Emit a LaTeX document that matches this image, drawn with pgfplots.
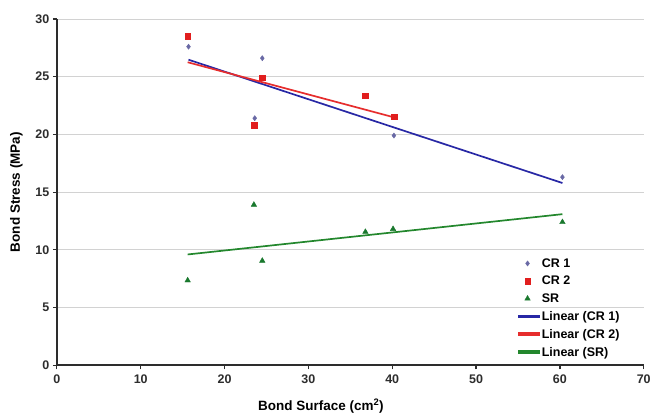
\documentclass[border=0pt]{standalone}
\usepackage{pgfplots}
\pgfplotsset{compat=1.18}
\usepackage{fontspec}
\setmainfont{Liberation Sans}
\definecolor{crone}{RGB}{105,105,165}
\definecolor{crtwo}{RGB}{225,30,30}
\definecolor{srg}{RGB}{25,120,45}
\definecolor{lineblue}{RGB}{40,40,165}
\definecolor{linered}{RGB}{230,45,45}
\definecolor{linegreen}{RGB}{35,135,45}
\definecolor{axgray}{RGB}{45,45,45}
\begin{document}
\begin{tikzpicture}[x=1pt,y=1pt]
\begin{axis}[name=ax,
  scale only axis, width=588pt, height=347pt,
  xmin=0, xmax=70, ymin=0, ymax=30,
  xtick={0,10,...,70}, ytick={0,5,...,30},
  axis x line*=bottom, axis y line*=left,
  axis line style={axgray, line width=1.7pt, -},
  tick style={axgray, line width=1.2pt},
  tick align=outside, major tick length=4pt,
  ymajorgrids, grid style={gray!35, line width=0.8pt},
  /pgf/number format/assume math mode=true,
  ticklabel style={font=\bfseries\fontsize{12.5}{14}\selectfont, text=axgray},
  xticklabel style={yshift=-2pt},
  xlabel={Bond Surface (cm\textsuperscript{2})},
  ylabel={Bond Stress (MPa)},
  xlabel style={font=\bfseries\fontsize{13.5}{15}\selectfont, at={(axis description cs:0.45,0)}, anchor=north, yshift=-30pt},
  ylabel style={font=\bfseries\fontsize{13.5}{15}\selectfont, yshift=6pt},
  legend style={draw=none, fill=none, at={(rel axis cs:0.784,0.318)}, anchor=north west,
    font=\bfseries\fontsize{12.5}{14}\selectfont, row sep=3.4pt, inner sep=1pt},
  legend cell align=left,
  clip=false,
]
\addplot[only marks, mark=diamond*, mark size=2.6pt, color=crone] coordinates {
  (15.7,27.6) (23.6,21.4) (24.5,26.6) (40.2,19.9) (60.3,16.3)};
\addlegendentry{CR 1}
\addplot[only marks, mark=square*, mark size=2.8pt, color=crtwo] coordinates {
  (15.6,28.5) (23.5,20.8) (24.5,24.9) (36.8,23.35) (40.2,21.55)};
\addlegendentry{CR 2}
\addplot[only marks, mark=triangle*, mark size=3.2pt, color=srg] coordinates {
  (15.6,7.35) (23.5,13.9) (24.5,9.05) (36.8,11.55) (40.1,11.8) (60.3,12.4)};
\addlegendentry{SR}
\addplot[lineblue, line width=1.7pt, legend image code/.code={\fill[lineblue] (0pt,-1pt) rectangle (20pt,1pt);}] coordinates {(15.7,26.47) (60.3,15.79)};
\addlegendentry{Linear (CR 1)}
\addplot[linered, line width=1.7pt, legend image code/.code={\fill[linered] (0pt,-1pt) rectangle (20pt,1pt);}] coordinates {(15.6,26.25) (40.2,21.48)};
\addlegendentry{Linear (CR 2)}
\addplot[linegreen, line width=1.7pt, legend image code/.code={\fill[linegreen] (0pt,-1pt) rectangle (20pt,1pt);}] coordinates {(15.6,9.6) (60.3,13.09)};
\addlegendentry{Linear (SR)}
\end{axis}
\path (ax.south west) ++(-57pt,-53pt) coordinate (bbA);
\path (ax.south west) ++(597pt,366pt) coordinate (bbB);
\useasboundingbox (bbA) rectangle (bbB);
\end{tikzpicture}
\end{document}
